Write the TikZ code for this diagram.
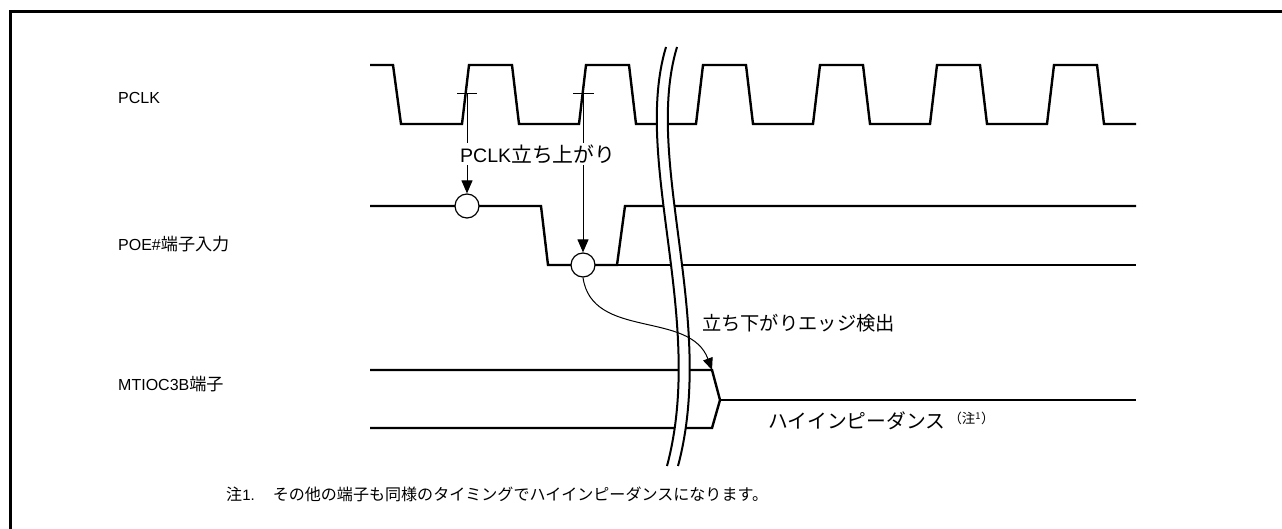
\documentclass[tikz,border=0pt]{standalone}
\usepackage{fontspec}
\setmainfont{Liberation Sans}
\newfontfamily\jpfont[Scale=1.07]{Noto Sans CJK JP}
\usetikzlibrary{arrows.meta}

\tikzset{
  wave/.style={line width=2.4pt, line join=miter},
  pointer/.style={line width=1pt, -{Triangle[length=13pt, width=11pt]}},
  sample/.style={draw, circle, fill=white, line width=1.2pt, minimum size=24pt, inner sep=0pt},
  label/.style={anchor=west, inner sep=0pt, font=\fontsize{16}{19}\selectfont},
  biglabel/.style={anchor=west, inner sep=0pt, font=\fontsize{18.5}{22}\selectfont},
  breakline/.style={line width=2pt}
}

\begin{document}
\begin{tikzpicture}[x=1pt, y=-1pt]
    \useasboundingbox (0,0) rectangle (1282,529);
    % Frame
    \draw[line width=3pt] (10,529) -- (10,12) -- (1282,12);

    % Signal names
    \node[label] (pclk) at (118,98) {PCLK};
    \node[label] (poe) at (118,244) {POE\#{\jpfont 端子入力}};
    \node[label] (mtioc) at (118,384) {MTIOC3B{\jpfont 端子}};

    % PCLK
    \draw[wave] (370,65) -- (393,65) -- (401,124)
        \foreach \t in {462,579,696,813,930,1047} {
            -- (\t,124) -- (\t+7,65) -- (\t+50,65) -- (\t+57,124)
        } -- (1136,124);

    % POE# input
    \draw[wave] (370,206) -- (541,206) -- (548,265) -- (617,265) -- (625,206) -- (1136,206);
    \draw[wave] (617,265) -- (1136,265);

    % MTIOC3B
    \draw[wave] (370,370) -- (712,370) -- (720,400) -- (712,428) -- (370,428);
    \draw[wave] (720,400) -- (1136,400);

    % Rising edge marks
    \coordinate (rise1) at (467,94);
    \coordinate (rise2) at (583,94);
    \draw[line width=1pt] (457,94) -- (477,94);
    \draw[line width=1pt] (573,94) -- (594,94);

    % Sampling points
    \node[sample] (smp1) at (467,206) {};
    \node[sample] (smp2) at (583,265) {};
    \draw[pointer] (rise1) -- (smp1);
    \draw[pointer] (rise2) -- (smp2);
    \node[biglabel, fill=white, inner sep=1pt, font=\fontsize{19.5}{23}\selectfont] (risetext) at (459,154) {PCLK{\jpfont 立ち上がり}};

    % Break
    \fill[white] (666,47) .. controls (632,160) and (706,320) .. (667,466)
        -- (678,466) .. controls (717,320) and (643,160) .. (677,47) -- cycle;
    \draw[breakline] (666,47) .. controls (632,160) and (706,320) .. (667,466);
    \draw[breakline] (677,47) .. controls (643,160) and (717,320) .. (678,466);

    % Edge detection
    \coordinate (edge) at (712,370);
    \draw[line width=1pt, -{Triangle[length=12pt, width=10pt]}] (smp2.south) .. controls (592,340) and (690,310) .. (edge);
    \node[biglabel, font=\fontsize{18}{22}\selectfont] (falltext) at (702,323) {\jpfont 立ち下がりエッジ検出};
    \node[biglabel] (hiz) at (768,421) {{\jpfont ハイインピーダンス}\hspace{3pt}\raisebox{5pt}{\fontsize{12.5}{15}\selectfont\jpfont （注\textsuperscript{1}）}};

    % Note
    \node[label, font=\fontsize{15}{18}\selectfont] (note) at (226,494) {{\jpfont 注}1.\hspace{1.2em}{\jpfont その他の端子も同様のタイミングでハイインピーダンスになります。}};
\end{tikzpicture}
\end{document}
